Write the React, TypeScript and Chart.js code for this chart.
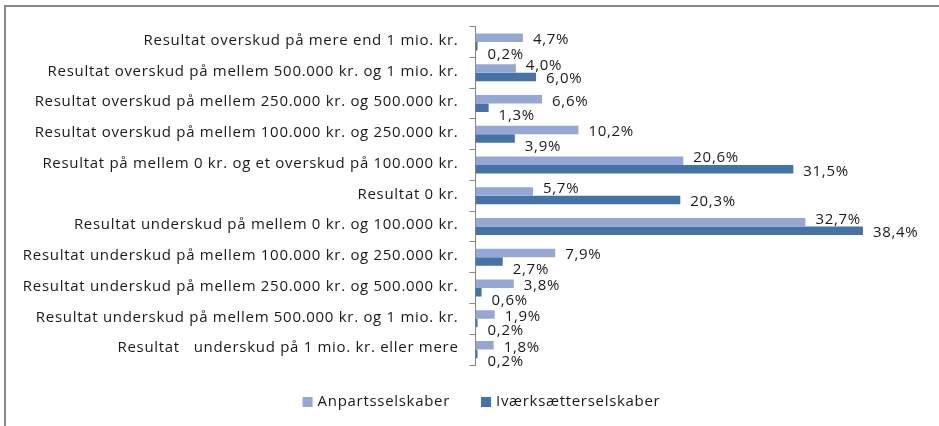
import React, { useEffect, useRef } from "react";
import { Chart, registerables } from "chart.js";

Chart.register(...registerables);

const categories = [
  "Resultat overskud på mere end 1 mio. kr.",
  "Resultat overskud på mellem 500.000 kr. og 1 mio. kr.",
  "Resultat overskud på mellem 250.000 kr. og 500.000 kr.",
  "Resultat overskud på mellem 100.000 kr. og 250.000 kr.",
  "Resultat på mellem 0 kr. og et overskud på 100.000 kr.",
  "Resultat 0 kr.",
  "Resultat underskud på mellem 0 kr. og 100.000 kr.",
  "Resultat underskud på mellem 100.000 kr. og 250.000 kr.",
  "Resultat underskud på mellem 250.000 kr. og 500.000 kr.",
  "Resultat underskud på mellem 500.000 kr. og 1 mio. kr.",
  "Resultat   underskud på 1 mio. kr. eller mere",
];

const anpartsselskaber = [4.7, 4.0, 6.6, 10.2, 20.6, 5.7, 32.7, 7.9, 3.8, 1.9, 1.8];
const ivaerksaetterselskaber = [0.2, 6.0, 1.3, 3.9, 31.5, 20.3, 38.4, 2.7, 0.6, 0.2, 0.2];

const seriesNames = ["Anpartsselskaber", "Iværksætterselskaber"];
const seriesColors = ["#94A8D3", "#4572A7"];

const FONT = "'Open Sans', sans-serif";
const TEXT_COLOR = "#1a1a1a";
const SPACING = "0.7px";

const spacingPlugin = {
  id: "letterSpacing",
  beforeDraw(chart: any) {
    chart.ctx.letterSpacing = SPACING;
  },
};

// Value labels at the outside end; labels are nudged apart to avoid overlap
const labelPlugin = {
  id: "valueLabels",
  afterDatasetsDraw(chart: any) {
    const ctx = chart.ctx;
    ctx.save();
    ctx.letterSpacing = SPACING;
    ctx.font = `15px ${FONT}`;
    ctx.fillStyle = TEXT_COLOR;
    ctx.textAlign = "left";
    ctx.textBaseline = "middle";
    const d0 = chart.data.datasets[0].data;
    const d1 = chart.data.datasets[1].data;
    chart.data.datasets.forEach((ds: any, di: number) => {
      const meta = chart.getDatasetMeta(di);
      meta.data.forEach((el: any, i: number) => {
        const v = ds.data[i];
        const txt = v.toFixed(1).replace(".", ",") + "%";
        const darkLonger = d1[i] >= d0[i];
        let dy: number;
        if (di === 0) dy = darkLonger ? -3 : 2;
        else dy = darkLonger ? 2 : 8;
        ctx.fillText(txt, el.x + 10, el.y + dy);
      });
    });
    ctx.restore();
  },
};

const legendPlugin = {
  id: "bottomLegend",
  afterDraw(chart: any) {
    const ctx = chart.ctx;
    ctx.save();
    ctx.letterSpacing = SPACING;
    ctx.font = `15px ${FONT}`;
    ctx.textBaseline = "middle";
    ctx.textAlign = "left";
    const box = 10;
    const gapText = 5;
    const gapItem = 31;
    const items = chart.data.datasets.map((ds: any) => ({
      label: ds.label,
      color: ds.backgroundColor,
      w: box + gapText + ctx.measureText(ds.label).width,
    }));
    const total = items.reduce((a: number, it: any) => a + it.w, 0) + gapItem * (items.length - 1);
    const cx = 481.5;
    const cy = 402;
    let x = cx - total / 2;
    items.forEach((it: any) => {
      ctx.fillStyle = it.color;
      ctx.fillRect(x, cy - box / 2, box, box);
      ctx.fillStyle = TEXT_COLOR;
      ctx.fillText(it.label, x + box + gapText, cy);
      x += it.w + gapItem;
    });
    ctx.restore();
  },
};

export default function App() {
  const ref = useRef<HTMLCanvasElement>(null);
  useEffect(() => {
    if (!ref.current) return;
    const chart = new Chart(ref.current, {
      type: "bar",
      data: {
        labels: categories,
        datasets: [
          {
            label: seriesNames[0],
            data: anpartsselskaber,
            backgroundColor: seriesColors[0],
            categoryPercentage: 0.553,
            barPercentage: 1,
          },
          {
            label: seriesNames[1],
            data: ivaerksaetterselskaber,
            backgroundColor: seriesColors[1],
            categoryPercentage: 0.553,
            barPercentage: 1,
          },
        ],
      },
      options: {
        indexAxis: "y",
        responsive: false,
        animation: false,
        devicePixelRatio: 1,
        layout: { padding: { left: 0, right: 9.5, top: 26.7, bottom: 61 } },
        scales: {
          x: { display: false, min: 0, max: 45 },
          y: {
            afterFit: (s: any) => {
              s.width = 475.5;
            },
            grid: {
              offset: true,
              drawOnChartArea: false,
              drawTicks: true,
              tickLength: 6,
              color: "#868686",
            },
            border: { color: "#868686", width: 1 },
            ticks: {
              padding: 11,
              labelOffset: -1.5,
              color: TEXT_COLOR,
              font: { family: FONT, size: 15 },
              autoSkip: false,
            },
          },
        },
        plugins: {
          legend: { display: false },
          tooltip: { enabled: false },
        },
      },
      plugins: [spacingPlugin, labelPlugin, legendPlugin],
    });
    return () => chart.destroy();
  }, []);
  return (
    <div style={{ position: "fixed", left: 0, top: 0, width: 939, height: 426, background: "#fff" }}>
      <div
        style={{
          position: "absolute",
          left: 4,
          top: 5,
          width: 935,
          height: 421,
          borderTop: "2px solid #8a8a8a",
          borderLeft: "2px solid #8a8a8a",
          boxSizing: "border-box",
        }}
      />
      <canvas ref={ref} width={939} height={426} style={{ position: "absolute", left: 0, top: 0 }} />
    </div>
  );
}
